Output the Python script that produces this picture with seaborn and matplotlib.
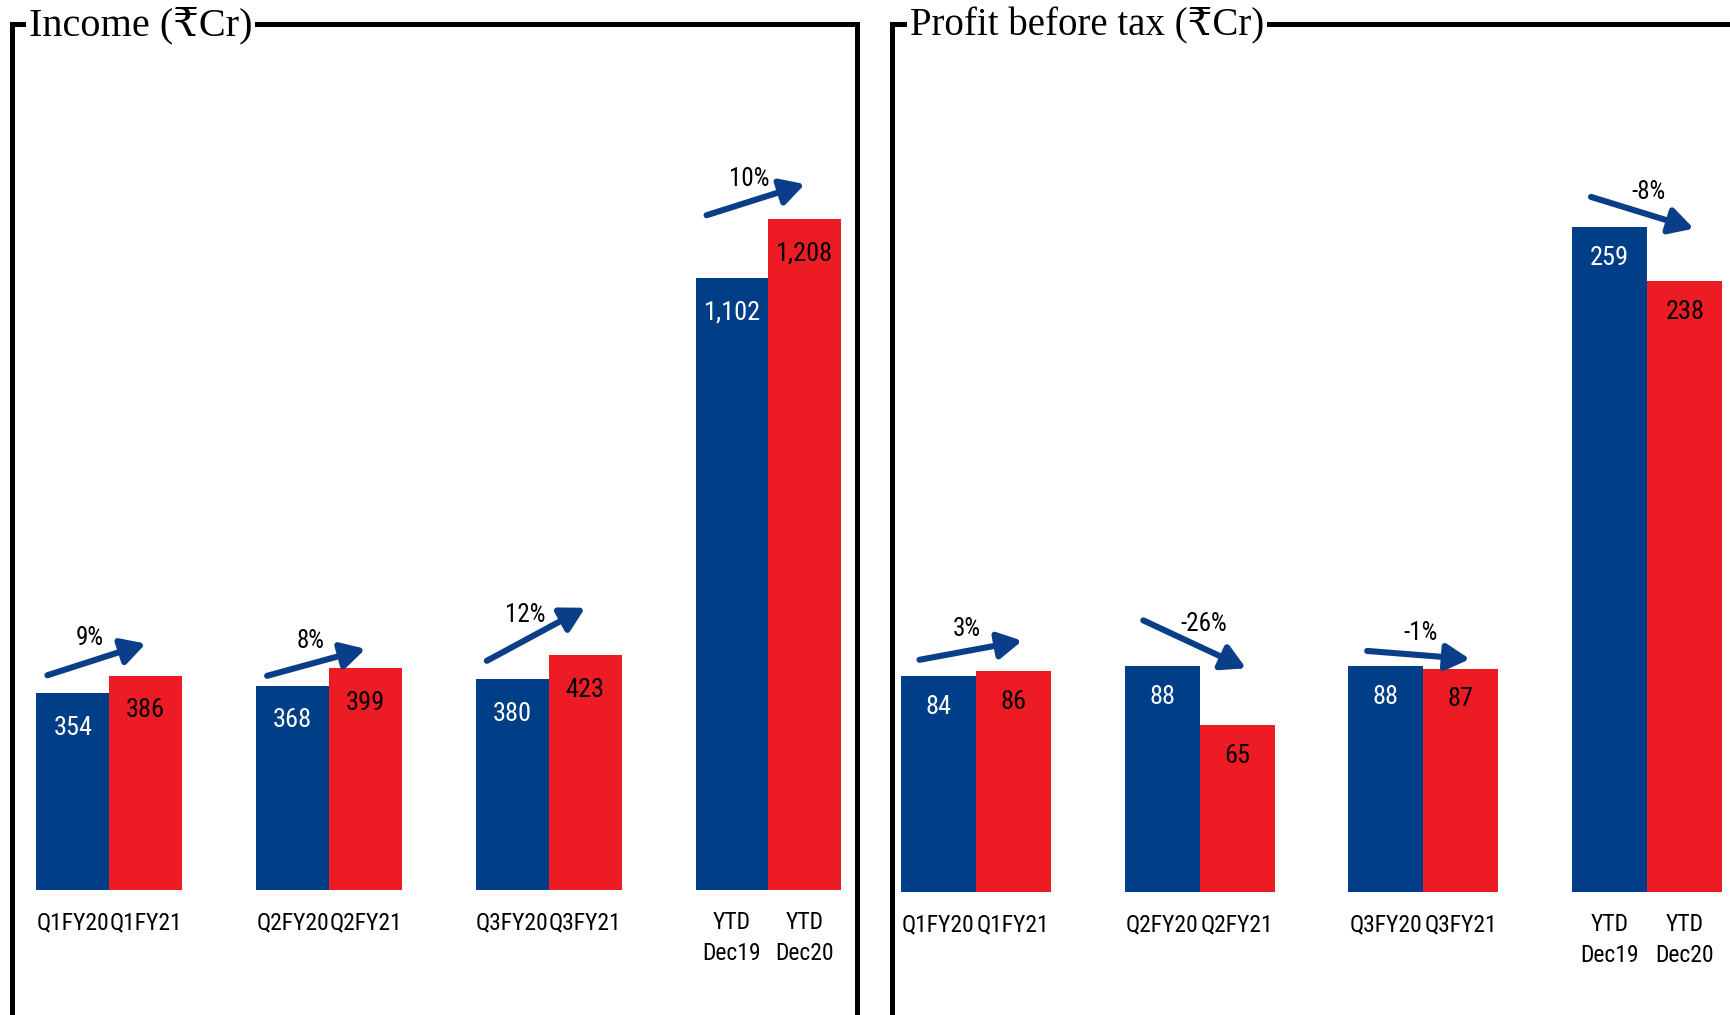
import numpy as np
import pandas as pd
import matplotlib
matplotlib.use("Agg")
import matplotlib.pyplot as plt
import seaborn as sns
from matplotlib.lines import Line2D
from matplotlib import font_manager

# ---------------- data ----------------
periods = ["Q1", "Q2", "Q3", "YTD"]
series = ["Previous year", "Current year"]
labels_prev = ["Q1FY20", "Q2FY20", "Q3FY20", "YTD\nDec19"]
labels_curr = ["Q1FY21", "Q2FY21", "Q3FY21", "YTD\nDec20"]

income_prev = [354, 368, 380, 1102]
income_curr = [386, 399, 423, 1208]
income_growth = ["9%", "8%", "12%", "10%"]

pbt_prev = [84, 88, 88, 259]
pbt_curr = [86, 65, 87, 238]
pbt_growth = ["3%", "-26%", "-1%", "-8%"]

# ---------------- style ----------------
W, H, DPI = 1731, 1015, 100
BLUE = "#003F87"
RED = "#ED1C24"
ARROW = "#0B3E88"

sns.set_theme(style="white")
fonts = font_manager.fontManager.ttflist
names = {f.name for f in fonts}
STRETCH = "normal"
if "Liberation Sans Narrow" in names:
    NARROW = "Liberation Sans Narrow"
elif "Roboto Condensed" in names:
    NARROW = "Roboto Condensed"
else:
    NARROW = "DejaVu Sans"
    if any(f.name == "DejaVu Sans" and str(f.stretch) in ("condensed", "semi-condensed", "500") for f in fonts):
        STRETCH = "condensed"
SERIF = ["Liberation Serif", "DejaVu Serif", "DejaVu Sans"]
plt.rcParams["font.family"] = [NARROW, "DejaVu Sans"]
plt.rcParams["font.stretch"] = STRETCH
SMALL = 15 if NARROW == "DejaVu Sans" else 17

fig = plt.figure(figsize=(W / DPI, H / DPI), dpi=DPI)
fig.patch.set_facecolor("white")


def box(left, top, right, bottom):
    return [left / W, 1 - bottom / H, (right - left) / W, (bottom - top) / H]


def panel(rect, xlim, ymax, width, prev, curr, growth, arrow_offs,
          start_frac, end_frac, val_off):
    ax = fig.add_axes(rect)
    df = pd.DataFrame({
        "period": periods * 2,
        "series": [series[0]] * 4 + [series[1]] * 4,
        "value": prev + curr,
    })
    sns.barplot(data=df, x="period", y="value", hue="series", order=periods,
                hue_order=series, palette=[BLUE, RED], width=width,
                saturation=1, errorbar=None, legend=False, linewidth=0, ax=ax)
    ax.set_xlim(*xlim)
    ax.set_ylim(0, ymax)
    for s in ax.spines.values():
        s.set_visible(False)
    ax.set_facecolor("none")
    ax.set_yticks([])
    ax.set_xlabel("")
    ax.set_ylabel("")
    bw = width / 2
    ticks = [i - bw / 2 for i in range(4)] + [i + bw / 2 for i in range(4)]
    ax.set_xticks(ticks, labels_prev + labels_curr)
    ax.tick_params(axis="x", length=0, pad=15, labelsize=SMALL, labelcolor="black")
    for t in ax.get_xticklabels():
        t.set_linespacing(1.45)
        t.set_fontstretch(STRETCH)

    # value labels inside bars
    for cont, vals, col in zip(ax.containers, (prev, curr), ("white", "black")):
        for bar, v in zip(cont, vals):
            ax.annotate(f"{v:,}", (bar.get_x() + bar.get_width() / 2, bar.get_height()),
                        xytext=(0, -val_off), textcoords="offset points",
                        ha="center", va="center", color=col, fontsize=SMALL + 2,
                        fontstretch=STRETCH)

    # growth arrows + labels
    k = DPI / 72.0
    for i in range(4):
        b0 = ax.containers[0][i]
        b1 = ax.containers[1][i]
        x0 = b0.get_x() + start_frac * b0.get_width()
        x1 = b1.get_x() + b1.get_width() * (0.5 + end_frac)
        p0 = ax.transData.transform((x0, prev[i])) + np.array([0, arrow_offs[i][0] * k])
        p1 = ax.transData.transform((x1, curr[i])) + np.array([0, arrow_offs[i][1] * k])
        ax.annotate("", xy=p1, xytext=p0, xycoords="figure pixels",
                    textcoords="figure pixels",
                    arrowprops=dict(arrowstyle="-|>,head_length=0.65,head_width=0.36",
                                    lw=4.4, color=ARROW, mutation_scale=22,
                                    shrinkA=0, shrinkB=0))
        d = p1 - p0
        n = np.array([-d[1], d[0]]) / np.hypot(*d)
        pt = (p0 + p1) / 2 + n * 22
        ax.annotate(growth[i], xy=pt, xycoords="figure pixels", ha="center",
                    va="center", fontsize=SMALL + 1, color="black",
                    fontstretch=STRETCH)
    return ax


# Income panel
panel(box(12, 24, 857, 890), (-0.443, 3.403), 1558.7, 0.663,
      income_prev, income_curr, income_growth,
      [(13, 23), (7, 14), (13, 34), (45, 25)], 0.15, 0.0, 25)

# PBT panel
panel(box(892, 24, 1731, 892), (-0.374, 3.374), 338.3, 0.67,
      pbt_prev, pbt_curr, pbt_growth,
      [(12, 22), (33, 41), (11, 7), (22, 38)], 0.25, 0.12, 22)

# frames
LW = 3.6
fig.add_artist(Line2D([12 / W, 12 / W, 857 / W, 857 / W], [0, 1 - 24 / H, 1 - 24 / H, 0],
                      transform=fig.transFigure, color="black", lw=LW,
                      solid_joinstyle="miter", zorder=5))
fig.add_artist(Line2D([892 / W, 892 / W, 1.01], [0, 1 - 24 / H, 1 - 24 / H],
                      transform=fig.transFigure, color="black", lw=LW,
                      solid_joinstyle="miter", zorder=5))

# titles
tb = dict(facecolor="white", edgecolor="none", pad=2)
fig.text(29 / W, 1 - 35 / H, "Income (₹Cr)", family=SERIF, fontsize=29,
         ha="left", va="baseline", color="black", bbox=tb, zorder=10)
fig.text(910 / W, 1 - 35 / H, "Profit before tax (₹Cr)", family=SERIF, fontsize=28,
         ha="left", va="baseline", color="black", bbox=tb, zorder=10)

fig.savefig("out.png", dpi=DPI, facecolor="white")
